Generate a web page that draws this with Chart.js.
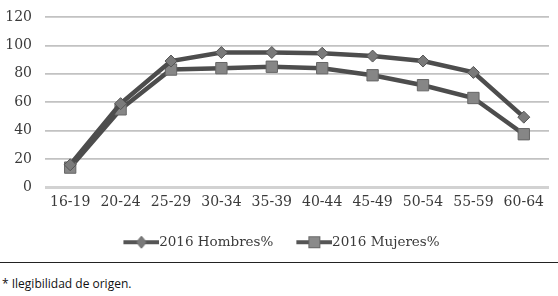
<!DOCTYPE html>
<html><head><meta charset="utf-8">
<script src="https://cdn.jsdelivr.net/npm/chart.js@4/dist/chart.umd.min.js"></script>
<style>
html,body{margin:0;padding:0;background:#fff;width:558px;height:296px;overflow:hidden}
#wrap{position:relative;width:558px;height:262px}
#note{border-top:1px solid #222;width:558px;height:33px;font-family:"Open Sans","Liberation Sans",sans-serif;font-size:12px;color:#111;padding-left:2px;box-sizing:border-box;line-height:14px;padding-top:14px}
</style></head><body>
<div id="wrap"><canvas id="c" width="558" height="262"></canvas></div>
<div id="note">* Ilegibilidad de origen.</div>
<script>
const categories = ["16-19","20-24","25-29","30-34","35-39","40-44","45-49","50-54","55-59","60-64"];
const hombres = [16, 59, 89, 95, 95, 94.5, 92.5, 89, 81, 49.5];
const mujeres = [14, 55, 83, 84, 85, 84, 79, 72, 63, 37.5];
const yTicks = [0, 20, 40, 60, 80, 100, 120];

function legendIcon(kind){
  const B = 42, H = 14;
  const cv = document.createElement('canvas');
  const W = 2*(B+7) - B;
  cv.width = W; cv.height = H;
  const g = cv.getContext('2d');
  const off = (W - B)/2;
  const x0 = off + 13, x1 = off + B + 7;
  g.strokeStyle = '#555'; g.lineWidth = 4;
  g.beginPath(); g.moveTo(x0,7); g.lineTo(x1,7); g.stroke();
  const cx = (x0+x1)/2;
  g.fillStyle = '#8a8a8a'; g.strokeStyle = '#666'; g.lineWidth = 1;
  if(kind==='sq'){ g.fillRect(cx-6,1,12,12); g.strokeRect(cx-5.5,1.5,11,11); }
  else { g.fillStyle='#7a7a7a'; g.beginPath(); g.moveTo(cx,1); g.lineTo(cx+5,7); g.lineTo(cx,13); g.lineTo(cx-5,7); g.closePath(); g.fill(); g.stroke(); }
  return cv;
}
const icons = [legendIcon('di'), legendIcon('sq')];
const fontFam = '"DejaVu Serif","Liberation Serif",serif';

new Chart(document.getElementById('c'), {
  type: 'line',
  data: {
    labels: categories,
    datasets: [
      {label:'2016 Hombres%', data:hombres, borderColor:'#4d4d4d', borderWidth:4.5, pointStyle:'rectRot', pointRadius:6, pointBackgroundColor:'#7a7a7a', pointBorderColor:'#555', pointBorderWidth:1, tension:0},
      {label:'2016 Mujeres%', data:mujeres, borderColor:'#4d4d4d', borderWidth:4.5, pointStyle:'rect', pointRadius:8, pointBackgroundColor:'#868686', pointBorderColor:'#666', pointBorderWidth:1, tension:0}
    ]
  },
  options: {
    responsive:false, animation:false,
    layout:{padding:{left:0,right:8,top:17,bottom:3}},
    scales:{
      x:{offset:true, grid:{display:false, drawTicks:false}, border:{display:false},
         afterFit:s=>{s.height=38;},
         ticks:{color:'#3a3a3a', font:{family:fontFam,size:14}, padding:6, maxRotation:0, autoSkip:false}},
      y:{min:0,max:120, afterBuildTicks:s=>{s.ticks=yTicks.map(v=>({value:v}));},
         afterFit:s=>{s.width=45; s.paddingTop=0; s.paddingBottom=0;},
         grid:{color:c=>c.tick.value===0?'#d2d2d2':'#c2c2c2', lineWidth:c=>c.tick.value===0?3:1.8, drawTicks:false},
         border:{display:false},
         ticks:{color:'#3a3a3a', font:{family:fontFam,size:14}, padding:13}}
    },
    plugins:{
      legend:{position:'bottom', labels:{usePointStyle:true, pointStyleWidth:42, color:'#3a3a3a', font:{family:fontFam,size:13.5}, padding:10,
        generateLabels:ch=>ch.data.datasets.map((d,i)=>({text:d.label, pointStyle:icons[i], fillStyle:'#888', strokeStyle:'#555', lineWidth:0, datasetIndex:i, fontColor:'#3a3a3a'}))}},
      tooltip:{enabled:false}
    }
  }
});
</script>
</body></html>
